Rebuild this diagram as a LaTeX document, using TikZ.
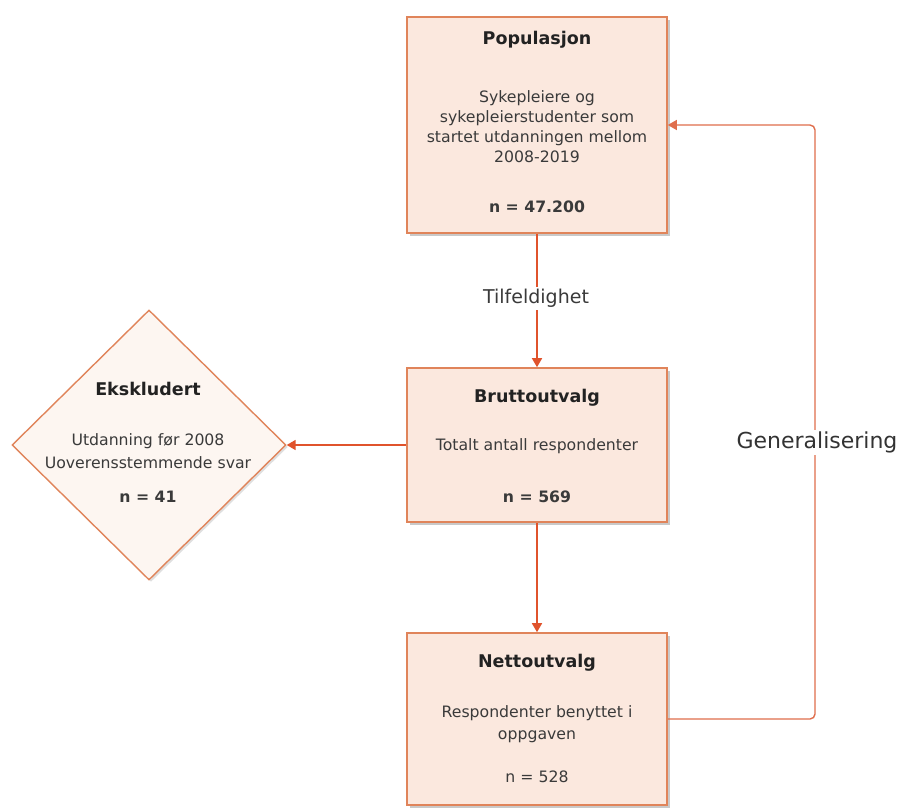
\documentclass[tikz,border=0pt]{standalone}
\usepackage{fontspec}
\setmainfont{DejaVu Sans}
\usetikzlibrary{shapes.geometric,arrows.meta,shadows,calc}
\definecolor{boxfill}{HTML}{FBE8DE}
\definecolor{boxline}{HTML}{E0845A}
\definecolor{arr}{HTML}{E0532C}
\definecolor{fb}{HTML}{E06E4C}
\definecolor{dfill}{HTML}{FDF6F1}
\definecolor{txt}{HTML}{3A3A3A}
\definecolor{ttl}{HTML}{222222}
\begin{document}
\begin{tikzpicture}[x=1pt,y=-1pt,
  box/.style={draw=boxline, line width=1.6pt, fill=boxfill, minimum width=260pt, inner sep=0pt,
    drop shadow={shadow xshift=3pt, shadow yshift=-3pt, opacity=0.35, fill=black!60}},
  dia/.style={diamond, draw=boxline, line width=1.4pt, fill=dfill, inner sep=0pt,
    minimum width=274pt, minimum height=270pt,
    drop shadow={shadow xshift=2pt, shadow yshift=-2pt, opacity=0.25, fill=black!50}},
  ttlstyle/.style={font=\bfseries\fontsize{17.5}{21}\selectfont, text=ttl, anchor=mid},
  bodystyle/.style={font=\fontsize{15.7}{20}\selectfont, text=txt, align=center},
  nstyle/.style={font=\fontsize{15.7}{20}\selectfont, text=txt, anchor=mid},
  conn/.style={draw=arr, line width=1.6pt, -{Triangle[width=10pt,length=9pt]}},
  lbl/.style={fill=white, inner sep=2pt, text=txt}
]
\fill[white] (0,0) rectangle (904,808);
\useasboundingbox (0,0) rectangle (904,808);

% boxes
\node[box, minimum height=216pt] (pop) at (537,125) {};
\node[box, minimum height=154pt] (brutto) at (537,445) {};
\node[box, minimum height=172pt] (netto) at (537,719) {};
\node[dia] (ekskl) at (149,445) {};

% Populasjon text
\node[ttlstyle] (popT) at (537,42) {Populasjon};
\node[bodystyle] (popB) at (537,127) {Sykepleiere og\\sykepleierstudenter som\\startet utdanningen mellom\\2008-2019};
\node[nstyle, font=\bfseries\fontsize{15.7}{20}\selectfont] (popN) at (537,210) {n = 47.200};

% Bruttoutvalg text
\node[ttlstyle] (brT) at (537,400) {Bruttoutvalg};
\node[nstyle] (brB) at (537,448) {Totalt antall respondenter};
\node[nstyle, font=\bfseries\fontsize{15.7}{20}\selectfont] (brN) at (537,500) {n = 569};

% Nettoutvalg text
\node[ttlstyle] (neT) at (537,665) {Nettoutvalg};
\node[bodystyle, font=\fontsize{15.7}{22}\selectfont] (neB) at (537,724) {Respondenter benyttet i\\oppgaven};
\node[nstyle] (neN) at (537,780) {n = 528};

% Ekskludert text
\node[ttlstyle] (exT) at (148,393) {Ekskludert};
\node[bodystyle, font=\fontsize{15.7}{23}\selectfont] (exB) at (148,451) {Utdanning før 2008\\Uoverensstemmende svar};
\node[nstyle, font=\bfseries\fontsize{15.7}{20}\selectfont] (exN) at (148,500) {n = 41};

% connectors
\draw[conn] (pop.south) -- (brutto.north);
\node[lbl, font=\fontsize{19}{23}\selectfont, anchor=mid] (tilf) at (536,301) {Tilfeldighet};
\draw[conn] (brutto.west) -- (ekskl.east);
\draw[conn] (brutto.south) -- (netto.north);

\coordinate (gr) at (815,445);
\draw[draw=fb, line width=1.4pt, rounded corners=5pt, -{Triangle[width=10pt,length=9pt]}, color=fb]
  (netto.east) -| (gr) |- (pop.east);
\node[lbl, font=\fontsize{22}{26}\selectfont, anchor=mid, text=black!80] (gen) at (817,446) {Generalisering};
\end{tikzpicture}
\end{document}
